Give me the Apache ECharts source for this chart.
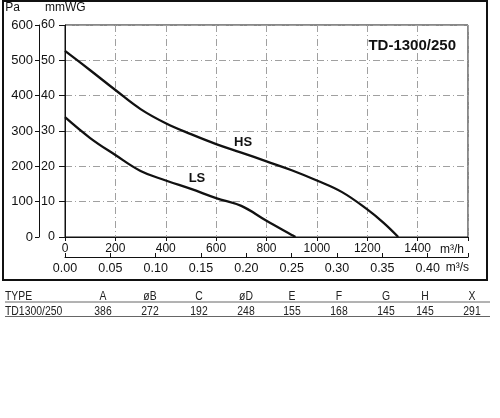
<!DOCTYPE html>
<html>
<head>
<meta charset="utf-8">
<script src="https://cdn.jsdelivr.net/npm/echarts@6/dist/echarts.min.js"></script>
<style>html,body{margin:0;padding:0;background:#fff;}#c{width:500px;height:418px;}</style>
</head>
<body>
<div id="c"></div>
<script>
// Data
var flowHS = [0, 100, 200, 300, 400, 500, 600, 700, 800, 900, 1000, 1100, 1200, 1265, 1323];
var paHS   = [527, 472, 416, 362, 322, 291, 263, 239, 214, 189, 160, 127, 78, 40, 0];
var flowLS = [0, 100, 200, 300, 400, 500, 600, 700, 800, 900, 915];
var paLS   = [339, 280, 232, 187, 160, 136, 110, 88, 46, 6, 0];
var curveLabels = ['HS', 'LS'];
var labelPosHS = [707, 269];
var labelPosLS = [524, 167];
var modelName = 'TD-1300/250';
var unitPa = 'Pa', unitMm = 'mmWG', unitFlowH = 'm³/h', unitFlowS = 'm³/s';
var tableHeaders = ['TYPE', 'A', 'øB', 'C', 'øD', 'E', 'F', 'G', 'H', 'X'];
var tableRow = ['TD1300/250', '386', '272', '192', '248', '155', '168', '145', '145', '291'];

var FONT = '"Liberation Sans", Arial, sans-serif';
function pairs(xs, ys) { return xs.map(function (x, i) { return [x, ys[i]]; }); }

var colX = [5, 103, 150, 199, 246, 292, 339, 386, 425, 472];
var graphics = [
  { type: 'rect', shape: { x: 3, y: 1, width: 484, height: 279 }, style: { fill: 'none', stroke: '#111', lineWidth: 2 }, silent: true },
  { type: 'line', shape: { x1: 5, y1: 302, x2: 490, y2: 302 }, style: { stroke: '#666', lineWidth: 1 } },
  { type: 'line', shape: { x1: 5, y1: 316.5, x2: 490, y2: 316.5 }, style: { stroke: '#666', lineWidth: 1 } },
  { type: 'text', x: 20, y: 8, style: { text: unitPa, fill: '#111', font: '12px ' + FONT, align: 'right', verticalAlign: 'middle' } },
  { type: 'text', x: 45, y: 8, style: { text: unitMm, fill: '#111', font: '12px ' + FONT, align: 'left', verticalAlign: 'middle' } }
];
[tableHeaders, tableRow].forEach(function (row, r) {
  row.forEach(function (t, i) {
    graphics.push({
      type: 'text', x: colX[i], y: r === 0 ? 296.5 : 311, scaleX: 0.8,
      style: { text: t, fill: '#222', font: '13px ' + FONT, align: i === 0 ? 'left' : 'center', verticalAlign: 'middle' }
    });
  });
});

var splitStyle = { show: true, lineStyle: { color: '#a0a0a0', width: 1, type: [7, 3, 1, 3] } };
var chart = echarts.init(document.getElementById('c'));
chart.setOption({
  animation: false,
  title: { text: modelName, right: 39, top: 33, textStyle: { fontSize: 15, fontWeight: 'bold', color: '#111', fontFamily: FONT } },
  grid: { left: 65, right: 32, top: 25, bottom: 181, show: true, borderColor: '#111', borderWidth: 1, backgroundColor: 'transparent' },
  xAxis: [
    {
      type: 'value', min: 0, max: 1600, interval: 200, position: 'bottom',
      name: unitFlowH, nameLocation: 'end', nameGap: -4,
      nameTextStyle: { align: 'right', verticalAlign: 'top', padding: [7, 0, 0, 0], fontSize: 12, color: '#111', fontFamily: FONT },
      axisLine: { onZero: false, lineStyle: { color: '#111', width: 1 } },
      axisTick: { show: true, length: 4, lineStyle: { color: '#111' } },
      axisLabel: { margin: 6, fontSize: 12, color: '#111', fontFamily: FONT, formatter: function (v) { return v >= 1600 ? '' : String(v); } },
      splitLine: splitStyle
    },
    {
      type: 'value', min: 0, max: 1600 / 3600, interval: 0.05, position: 'bottom', offset: 20,
      name: unitFlowS, nameLocation: 'end', nameGap: -4,
      nameTextStyle: { align: 'right', verticalAlign: 'top', padding: [5, 0, 0, 0], fontSize: 12, color: '#111', fontFamily: FONT },
      axisLine: { onZero: false, lineStyle: { color: '#111', width: 1 } },
      axisTick: { show: true, inside: true, length: 4, lineStyle: { color: '#111' } },
      axisLabel: { margin: 5, fontSize: 12.5, color: '#111', fontFamily: FONT, formatter: function (v) { return v > 0.4001 ? '' : v.toFixed(2); } },
      splitLine: { show: false }
    }
  ],
  yAxis: [
    {
      type: 'value', min: 0, max: 60, interval: 10, position: 'left',
      axisLine: { show: true, onZero: false, lineStyle: { color: '#111', width: 1 } },
      axisTick: { show: true, length: 6, lineStyle: { color: '#111' } },
      axisLabel: { margin: 10, fontSize: 12.5, color: '#111', fontFamily: FONT },
      splitLine: splitStyle
    },
    {
      type: 'value', min: 0, max: 600, interval: 100, position: 'left', offset: 26,
      axisLine: { show: true, onZero: false, lineStyle: { color: '#111', width: 1 } },
      axisTick: { show: true, length: 4, lineStyle: { color: '#111' } },
      axisLabel: { margin: 6, fontSize: 13, color: '#111', fontFamily: FONT },
      splitLine: { show: false }
    }
  ],
  series: [
    {
      name: curveLabels[0], type: 'line', xAxisIndex: 0, yAxisIndex: 1, data: pairs(flowHS, paHS),
      smooth: 0.4, showSymbol: false, symbol: 'none',
      lineStyle: { color: '#111', width: 2.3 },
      markPoint: { symbol: 'circle', symbolSize: 1, itemStyle: { color: 'rgba(0,0,0,0)' },
        label: { show: true, position: 'inside', formatter: curveLabels[0], fontSize: 13, fontWeight: 'bold', color: '#111', fontFamily: FONT },
        data: [{ coord: labelPosHS }] }
    },
    {
      name: curveLabels[1], type: 'line', xAxisIndex: 0, yAxisIndex: 1, data: pairs(flowLS, paLS),
      smooth: 0.4, showSymbol: false, symbol: 'none',
      lineStyle: { color: '#111', width: 2.3 },
      markPoint: { symbol: 'circle', symbolSize: 1, itemStyle: { color: 'rgba(0,0,0,0)' },
        label: { show: true, position: 'inside', formatter: curveLabels[1], fontSize: 13, fontWeight: 'bold', color: '#111', fontFamily: FONT },
        data: [{ coord: labelPosLS }] }
    }
  ],
  graphic: graphics
});
</script>
</body>
</html>
